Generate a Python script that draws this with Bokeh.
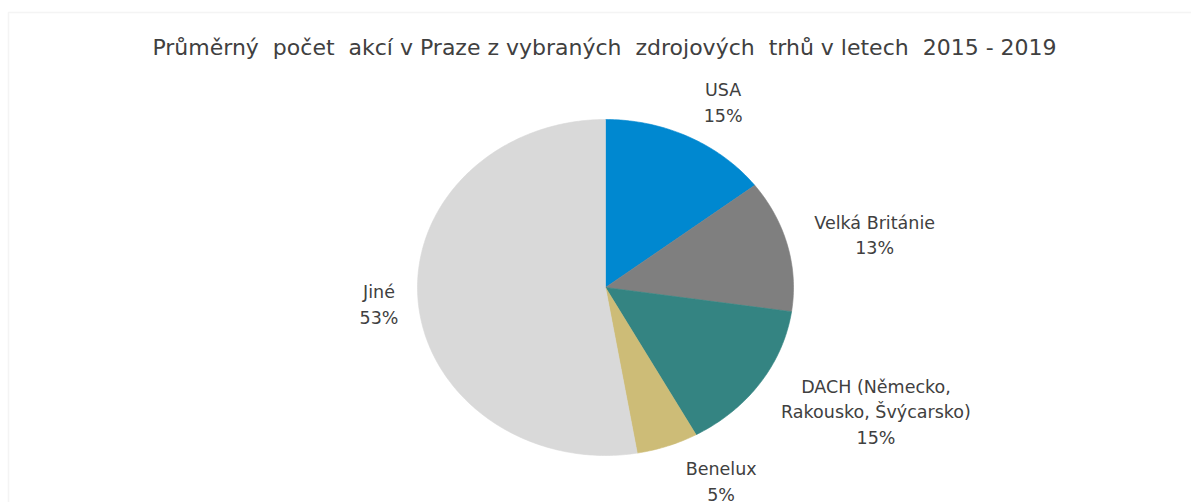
import numpy as np
from bokeh.plotting import figure
from bokeh.models import Range1d, ColumnDataSource, Label, BoxAnnotation
from bokeh.core.properties import value
from bokeh.embed import file_html
from bokeh.resources import INLINE

# ---- data ----
title_text = "Průměrný  počet  akcí v Praze z vybraných  zdrojových  trhů v letech  2015 - 2019"
categories = ["USA", "Velká Británie", "DACH (Německo,\nRakousko, Švýcarsko)", "Benelux", "Jiné"]
shares = [14.6, 12.7, 14.7, 5.3, 52.7]
colors = ["#0088D0", "#7F7F7F", "#348482", "#CDBC77", "#D9D9D9"]

# ---- layout ----
W, H = 1191, 502
CX, CY = 605, 287          # pie centre, canvas px from left / top
RX, RY = 188, 168          # pie radii in px (the chart is stretched horizontally)
FONT = "DejaVu Sans"
LABEL_SIZE = 17.5
CHAR_W = 9.6               # rough label character width used for placement
LINE_PX = 26
LINE_H = LINE_PX / (LABEL_SIZE * 1.164)
GAP_X, GAP_Y = 20, 12

p = figure(width=W, height=H, output_backend="svg", toolbar_location=None,
           x_range=Range1d(-CX / RX, (W - CX) / RX),
           y_range=Range1d(-(H - CY) / RY, CY / RY),
           min_border=0, background_fill_color="white", border_fill_color="white")
p.axis.visible = False
p.xgrid.visible = False
p.ygrid.visible = False
p.outline_line_color = None

vals = np.array(shares, dtype=float)
frac = vals / vals.sum()
ends = np.cumsum(frac)
starts = ends - frac

xs, ys = [], []
for s, e in zip(starts, ends):
    t = np.linspace(s, e, max(int((e - s) * 400), 8))
    a = 2 * np.pi * t
    xs.append([0.0] + list(np.sin(a)) + [0.0])
    ys.append([0.0] + list(np.cos(a)) + [0.0])

p.patches(xs=xs, ys=ys, fill_color=colors, line_color=colors, line_width=0.6)

# labels: name + percent, placed outside the slice end
mid = 2 * np.pi * (starts + ends) / 2
sx, cy = np.sin(mid), np.cos(mid)
texts = [f"{c}\n{int(v + 0.5)}%" for c, v in zip(categories, vals)]
lines = [t.split("\n") for t in texts]
wpx = np.array([max(len(l) for l in ls) * CHAR_W for ls in lines])
hpx = np.array([len(ls) * LINE_PX for ls in lines])
dx_px = np.sign(sx) * (wpx / 2 + GAP_X)
dy_px = cy * (hpx / 2 + GAP_Y)
lx = sx + dx_px / RX
ly = cy + dy_px / RY

src = ColumnDataSource(dict(x=lx, y=ly, text=texts))
p.text(x="x", y="y", text="text", source=src, text_align="center",
       text_baseline="middle", text_font=value(FONT),
       text_font_size=f"{LABEL_SIZE}px", text_color="#404040",
       text_line_height=LINE_H)

p.add_layout(Label(x=(604 - CX) / RX, y=(CY - 47) / RY,
                   text=title_text.replace("  ", " \u00a0"),
                   text_align="center", text_baseline="middle",
                   text_font=FONT, text_font_size="22px", text_color="#404040"))

p.add_layout(BoxAnnotation(left=8, right=W + 20, top=12, bottom=H + 20,
                           left_units="canvas", right_units="canvas",
                           top_units="canvas", bottom_units="canvas",
                           fill_alpha=0, line_color="#D9D9D9", line_width=1.5))

open("out.html", "w").write(file_html(p, INLINE))
